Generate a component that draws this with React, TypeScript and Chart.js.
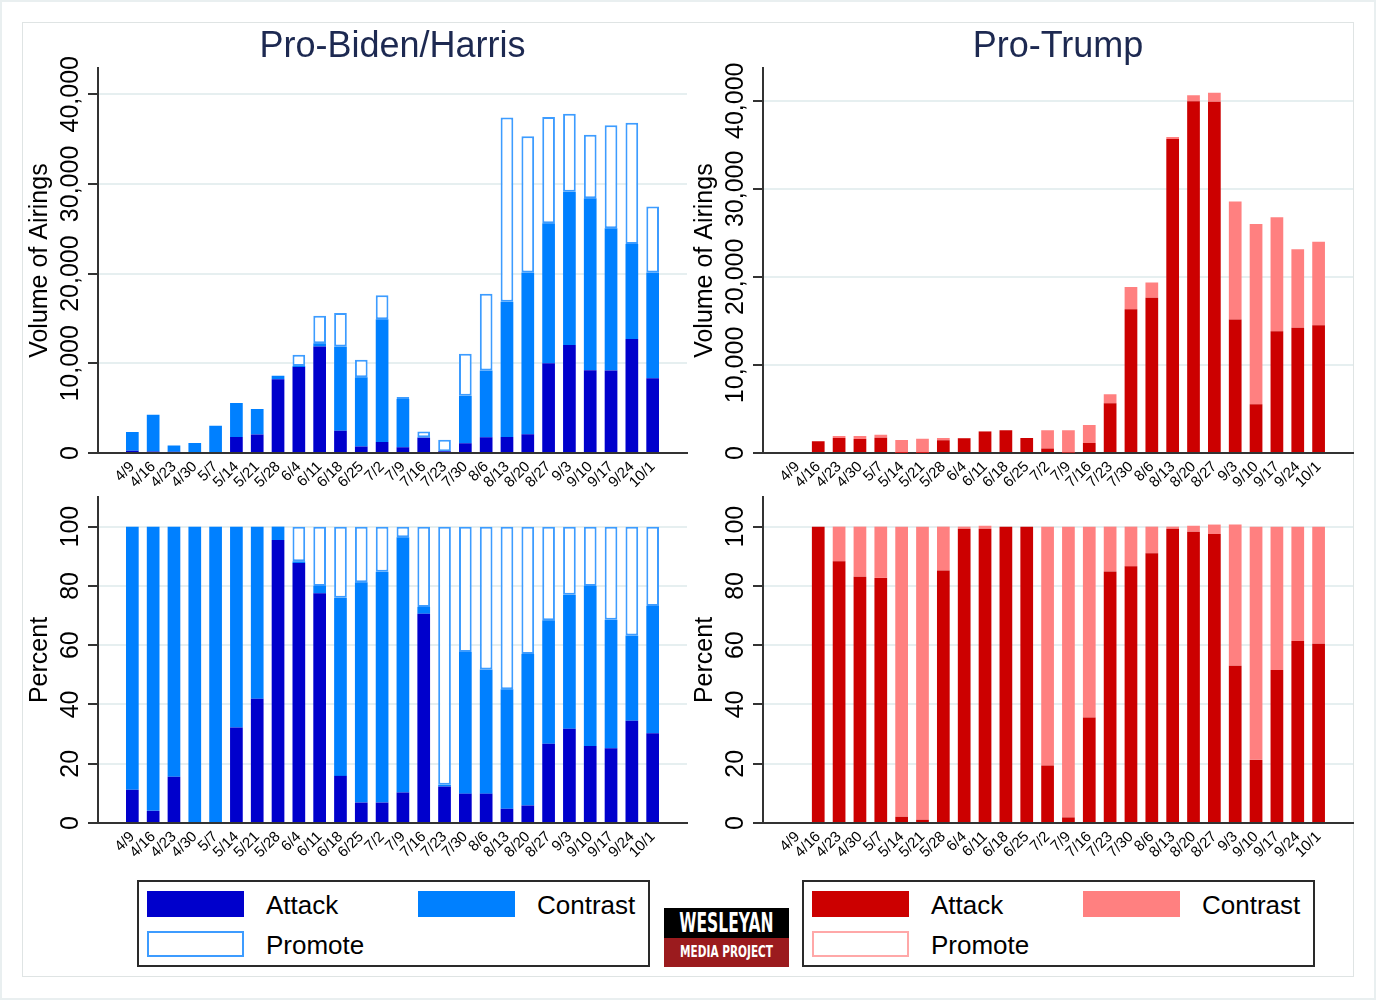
import React, { useEffect, useRef } from 'react';
import { Chart, registerables } from 'chart.js';

Chart.register(...registerables);

// ---------- data ----------
const weeks = ['4/9', '4/16', '4/23', '4/30', '5/7', '5/14', '5/21', '5/28', '6/4', '6/11', '6/18', '6/25', '7/2', '7/9', '7/16', '7/23', '7/30', '8/6', '8/13', '8/20', '8/27', '9/3', '9/10', '9/17', '9/24', '10/1'];

// Pro-Biden/Harris volume of airings
const bidenAttack = [260, 175, 135, 0, 0, 1790, 2060, 8220, 9600, 11860, 2480, 720, 1215, 645, 1695, 182, 1095, 1760, 1795, 2085, 10000, 12030, 9230, 9210, 12710, 8320];
const bidenContrast = [2080, 4095, 715, 1110, 3040, 3780, 2840, 390, 100, 380, 9380, 7725, 13710, 5370, 55, 9, 5285, 7430, 15070, 18050, 15620, 17100, 19160, 15860, 10600, 11790];
const bidenPromote = [0, 0, 0, 0, 0, 0, 0, 0, 1250, 3060, 3740, 1955, 2675, 225, 650, 1289, 4680, 8555, 20525, 15190, 11840, 8700, 7100, 11470, 13520, 7360];

// Pro-Biden/Harris percent
const bidenAttackPct = [11.2, 4.1, 15.6, 0, 0, 32.2, 41.9, 95.5, 87.7, 77.5, 15.9, 6.9, 6.9, 10.3, 70.6, 12.3, 9.9, 9.9, 4.8, 5.9, 26.7, 31.8, 26.0, 25.2, 34.5, 30.3];
const bidenContrastPct = [88.8, 95.9, 84.4, 100, 100, 67.8, 58.1, 4.5, 0.6, 2.5, 60.1, 74.3, 77.9, 86.1, 2.3, 0.6, 47.8, 41.9, 40.3, 51.1, 41.7, 45.2, 54.0, 43.4, 28.8, 42.9];
const bidenPromotePct = [0, 0, 0, 0, 0, 0, 0, 0, 11.7, 20.0, 24.0, 18.8, 15.2, 3.6, 27.1, 87.1, 42.3, 48.2, 54.9, 43.0, 31.6, 23.0, 20.0, 31.4, 36.7, 26.8];

// Pro-Trump volume of airings
const trumpAttack = [0, 1330, 1700, 1600, 1720, 30, 18, 1450, 1688, 2443, 2580, 1700, 500, 49, 1130, 5660, 16330, 17620, 35650, 39950, 39880, 15170, 5540, 13820, 14210, 14510];
const trumpContrast = [0, 0, 230, 330, 360, 1450, 1612, 250, 12, 17, 0, 0, 2080, 2531, 2050, 1010, 2530, 1740, 250, 690, 1020, 13390, 20480, 12960, 8930, 9470];
const trumpPromote = [0, 0, 0, 0, 0, 0, 0, 0, 0, 0, 0, 0, 0, 0, 0, 0, 0, 0, 0, 0, 0, 0, 0, 0, 0, 0];

// Pro-Trump percent
const trumpAttackPct = [0, 100, 88.3, 83.1, 82.7, 2.1, 1.1, 85.2, 99.3, 99.3, 100, 100, 19.4, 1.9, 35.6, 84.9, 86.6, 91.0, 99.3, 98.3, 97.5, 53.1, 21.3, 51.6, 61.4, 60.5];
const trumpContrastPct = [0, 0, 11.7, 16.9, 17.3, 97.9, 98.9, 14.8, 0.7, 1.0, 0, 0, 80.6, 98.1, 64.4, 15.1, 13.4, 9.0, 0.7, 2.0, 3.2, 47.6, 78.7, 48.4, 38.6, 39.5];
const trumpPromotePct = [0, 0, 0, 0, 0, 0, 0, 0, 0, 0, 0, 0, 0, 0, 0, 0, 0, 0, 0, 0, 0, 0, 0, 0, 0, 0];

const volumeTicks = [0, 10000, 20000, 30000, 40000];
const percentTicks = [0, 20, 40, 60, 80, 100];

const seriesNames = ['Attack', 'Contrast', 'Promote'];

// ---------- styles ----------
const FONT = '"Liberation Sans", Arial, Helvetica, sans-serif';
const BLUE = { attack: '#0000cc', contrast: '#0080ff', promote: '#3d9cff' };
const RED = { attack: '#cc0000', contrast: '#ff8080', promote: '#ffa8a8' };

const rotYPlugin = {
  id: 'rotY',
  afterDraw(chart: any, _args: any, opts: any) {
    const s = chart.scales.y;
    const ctx = chart.ctx;
    ctx.save();
    ctx.font = `25px ${FONT}`;
    ctx.fillStyle = '#000';
    ctx.textAlign = 'center';
    ctx.textBaseline = 'middle';
    for (const t of s.ticks) {
      const y = s.getPixelForValue(t.value);
      ctx.save();
      ctx.translate(s.right - 27, y);
      ctx.rotate(-Math.PI / 2);
      ctx.fillText(opts.comma ? Number(t.value).toLocaleString('en-US') : String(t.value), 0, 0);
      ctx.restore();
    }
    ctx.restore();
  },
};

type PanelProps = {
  left: number;
  top: number;
  width: number;
  height: number;
  attack: number[];
  contrast: number[];
  promote: number[];
  colors: { attack: string; contrast: string; promote: string };
  yMax: number;
  yTicks: number[];
  yTitle: string;
  title?: string;
  xHeight: number;
  padTop: number;
  padRight: number;
  comma: boolean;
};

function Panel(p: PanelProps) {
  const ref = useRef<HTMLCanvasElement | null>(null);
  useEffect(() => {
    if (!ref.current) return;
    const toXY = (arr: number[]) => arr.map((v, i) => ({ x: i, y: v }));
    const chart = new Chart(ref.current, {
      type: 'bar',
      data: {
        datasets: [
          { label: seriesNames[0], data: toXY(p.attack), backgroundColor: p.colors.attack, borderWidth: 0 },
          { label: seriesNames[1], data: toXY(p.contrast), backgroundColor: p.colors.contrast, borderWidth: 0 },
          {
            label: seriesNames[2],
            data: toXY(p.promote),
            backgroundColor: '#ffffff',
            borderColor: p.colors.promote,
            borderWidth: (c: any) => (c.raw && c.raw.y > 0 ? 2 : 0),
            borderSkipped: false,
          },
        ],
      } as any,
      options: {
        responsive: false,
        animation: false,
        devicePixelRatio: 1,
        layout: { padding: { left: 0, right: p.padRight, top: p.padTop, bottom: 0 } },
        datasets: { bar: { categoryPercentage: 0.61, barPercentage: 1 } },
        plugins: {
          legend: { display: false },
          tooltip: { enabled: false },
          title: p.title
            ? {
                display: true,
                text: p.title,
                fullSize: false,
                color: '#1d2951',
                font: { family: FONT, size: 36, weight: 'normal' },
                padding: { top: 25, bottom: 0 },
              }
            : { display: false },
          rotY: { comma: p.comma },
        } as any,
        scales: {
          x: {
            type: 'linear',
            stacked: true,
            min: -1.65,
            max: weeks.length - 1 + 1.65,
            offset: false,
            grid: { display: false, drawTicks: false },
            border: { display: true, color: '#333333', width: 2 },
            afterBuildTicks: (s: any) => {
              s.ticks = weeks.map((_, i) => ({ value: i }));
            },
            afterFit: (s: any) => {
              s.height = p.xHeight;
            },
            ticks: {
              autoSkip: false,
              minRotation: 45,
              maxRotation: 45,
              padding: 5,
              color: '#000',
              font: { family: FONT, size: 15 },
              callback: (v: any) => weeks[v] ?? '',
            },
          },
          y: {
            type: 'linear',
            stacked: true,
            min: 0,
            max: p.yMax,
            afterBuildTicks: (s: any) => {
              s.ticks = p.yTicks.map((v) => ({ value: v }));
            },
            afterFit: (s: any) => {
              s.width = 98;
            },
            grid: { color: '#e6eff0', lineWidth: 2, drawTicks: true, tickLength: 10, tickColor: '#333333', tickWidth: 2 },
            border: { display: true, color: '#333333', width: 2 },
            ticks: { display: false },
            title: {
              display: true,
              text: p.yTitle,
              color: '#000',
              font: { family: FONT, size: 25 },
              padding: { top: 25, bottom: 0 },
            },
          },
        } as any,
      },
      plugins: [rotYPlugin],
    } as any);
    return () => chart.destroy();
  }, []);
  return (
    <canvas
      ref={ref}
      width={p.width}
      height={p.height}
      style={{ position: 'absolute', left: p.left, top: p.top, width: p.width, height: p.height }}
    />
  );
}

function Legend({ left, colors }: { left: number; colors: { attack: string; contrast: string; promote: string } }) {
  const sw = (bg: string, border: string, x: number, y: number) => (
    <div style={{ position: 'absolute', left: x, top: y, width: 97, height: 26, background: bg, boxSizing: 'border-box', border: `2px solid ${border}` }} />
  );
  const txt = (t: string, x: number, y: number) => (
    <div style={{ position: 'absolute', left: x, top: y, fontFamily: FONT, fontSize: 26, lineHeight: '30px', color: '#000', whiteSpace: 'nowrap' }}>{t}</div>
  );
  return (
    <div style={{ position: 'absolute', left, top: 880, width: 513, height: 87, boxSizing: 'border-box', border: '2px solid #2a2a2a', background: '#fff' }}>
      {sw(colors.attack, colors.attack, 8, 9)}
      {txt(seriesNames[0], 127, 8)}
      {sw(colors.contrast, colors.contrast, 279, 9)}
      {txt(seriesNames[1], 398, 8)}
      {sw('#ffffff', colors.promote, 8, 49)}
      {txt(seriesNames[2], 127, 48)}
    </div>
  );
}

function Logo() {
  return (
    <div style={{ position: 'absolute', left: 664, top: 908, width: 125, height: 59 }}>
      <div style={{ position: 'absolute', left: 0, top: 0, width: 125, height: 30, background: '#000', color: '#fff', display: 'flex', alignItems: 'center', justifyContent: 'center', overflow: 'hidden' }}>
        <span style={{ fontFamily: '"DejaVu Sans Condensed", "DejaVu Sans", sans-serif', fontWeight: 'bold', fontSize: 24, display: 'inline-block', transform: 'scale(0.72, 1.12)', whiteSpace: 'nowrap', lineHeight: '30px' }}>WESLEYAN</span>
      </div>
      <div style={{ position: 'absolute', left: 0, top: 30, width: 125, height: 29, background: '#9b1b1e', color: '#fff', display: 'flex', alignItems: 'center', justifyContent: 'center', overflow: 'hidden' }}>
        <span style={{ fontFamily: '"DejaVu Sans Condensed", "DejaVu Sans", sans-serif', fontWeight: 'bold', fontSize: 15, display: 'inline-block', transform: 'scale(0.78, 1.1)', whiteSpace: 'nowrap', lineHeight: '29px' }}>MEDIA PROJECT</span>
      </div>
    </div>
  );
}

export default function App() {
  return (
    <div style={{ position: 'absolute', left: 0, top: 0, width: 1376, height: 1000, background: '#ffffff', boxSizing: 'border-box', border: '2px solid #e9eff0', overflow: 'hidden' }}>
      <div style={{ position: 'absolute', left: 20, top: 20, width: 1332, height: 955, boxSizing: 'border-box', border: '1px solid #dfe4e4' }} />
      <div style={{ position: 'absolute', left: -2, top: -2, width: 1376, height: 1000 }}>
        <Panel left={0} top={0} width={700} height={490} attack={bidenAttack} contrast={bidenContrast} promote={bidenPromote} colors={BLUE} yMax={42900} yTicks={volumeTicks} yTitle="Volume of Airings" title="Pro-Biden/Harris" xHeight={37} padTop={0} padRight={13} comma={true} />
        <Panel left={665} top={0} width={700} height={490} attack={trumpAttack} contrast={trumpContrast} promote={trumpPromote} colors={RED} yMax={43700} yTicks={volumeTicks} yTitle="Volume of Airings" title="Pro-Trump" xHeight={37} padTop={0} padRight={12} comma={true} />
        <Panel left={0} top={490} width={700} height={390} attack={bidenAttackPct} contrast={bidenContrastPct} promote={bidenPromotePct} colors={BLUE} yMax={110} yTicks={percentTicks} yTitle="Percent" xHeight={57} padTop={7} padRight={13} comma={false} />
        <Panel left={665} top={490} width={700} height={390} attack={trumpAttackPct} contrast={trumpContrastPct} promote={trumpPromotePct} colors={RED} yMax={110} yTicks={percentTicks} yTitle="Percent" xHeight={57} padTop={7} padRight={12} comma={false} />
        <Legend left={137} colors={BLUE} />
        <Legend left={802} colors={RED} />
        <Logo />
      </div>
    </div>
  );
}
